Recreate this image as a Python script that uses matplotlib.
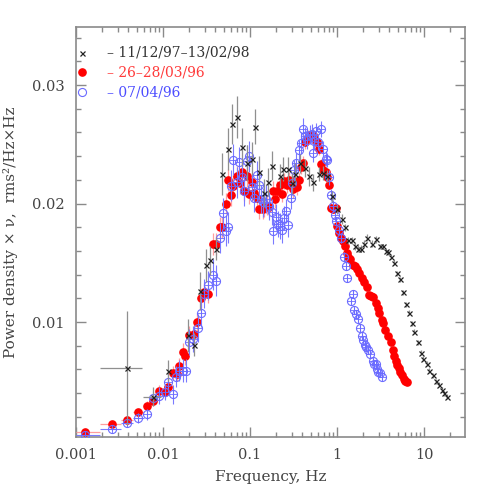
import matplotlib
matplotlib.use("Agg")
import matplotlib.pyplot as plt
import numpy as np
from matplotlib.ticker import LogLocator, MultipleLocator, FixedFormatter, FixedLocator

# 11/12/97-13/02/98 (black crosses)
bk_f = [0.0039, 0.0077, 0.0115, 0.0195, 0.0229, 0.0266, 0.0312, 0.0347, 0.0403, 0.048,
        0.0554, 0.0627, 0.071, 0.0803, 0.0917, 0.104, 0.114, 0.127, 0.145, 0.162,
        0.18, 0.221, 0.242, 0.275, 0.301, 0.329, 0.376, 0.429, 0.477, 0.525,
        0.621, 0.697, 0.775, 0.869, 0.99, 1.13, 1.24, 1.35, 1.47, 1.61,
        1.76, 1.87, 2.04, 2.19, 2.50, 2.80, 3.12, 3.34, 3.63, 3.88,
        4.18, 4.52, 4.85, 5.30, 5.69, 6.17, 6.73, 7.22, 7.74, 8.61,
        9.17, 9.82, 10.7, 11.5, 12.6, 13.6, 14.9, 16.0, 17.1, 18.5]
bk_p = [0.0061, 0.0037, 0.0059, 0.0089, 0.0081, 0.0126, 0.0148, 0.0152, 0.0162, 0.0225,
        0.0246, 0.0267, 0.0273, 0.0248, 0.0234, 0.0238, 0.0265, 0.0227, 0.0209, 0.0218,
        0.0232, 0.0223, 0.0229, 0.0229, 0.0217, 0.0225, 0.0234, 0.0230, 0.0223, 0.0218,
        0.0225, 0.0226, 0.0223, 0.0206, 0.0195, 0.0187, 0.0180, 0.0169, 0.0169, 0.0164,
        0.0162, 0.0162, 0.0166, 0.0171, 0.0166, 0.0170, 0.0164, 0.0164, 0.0160, 0.0159,
        0.0155, 0.0150, 0.0141, 0.0136, 0.0125, 0.0115, 0.0108, 0.0099, 0.0092, 0.0083,
        0.0074, 0.0069, 0.0065, 0.0059, 0.0055, 0.0050, 0.0047, 0.0043, 0.0040, 0.0037]
bk_e = [0.0048, 0.0008, 0.0009, 0.0014, 0.0010, 0.0016, 0.0014, 0.0012, 0.0010, 0.0018,
        0.0018, 0.0017, 0.0018, 0.0016, 0.0015, 0.0014, 0.0015, 0.0013, 0.0012, 0.0012,
        0.0012, 0.0010, 0.0010, 0.0010, 0.0009, 0.0009, 0.0008, 0.0008, 0.0008, 0.0007,
        0.0006, 0.0006, 0.0005, 0.0005, 0.0004, 0.0004, 0.0003, 0.0003, 0.0003, 0.0003,
        0.0003, 0.0003, 0.0003, 0.0003, 0.0003, 0.0003, 0.0002, 0.0002, 0.0002, 0.0002,
        0.0002, 0.0002, 0.0002, 0.0002, 0.0002, 0.0002, 0.0002, 0.0002, 0.0002, 0.0002,
        0.0002, 0.0002, 0.0002, 0.0002, 0.0002, 0.0002, 0.0002, 0.0002, 0.0002, 0.0002]
bk_bins = [(0.0019, 0.0057), (0.0059, 0.0095)]

# 26-28/03/96 (red filled circles)
rd_f = [0.00127, 0.00257, 0.00383, 0.0052, 0.0065, 0.0077, 0.0090, 0.0104, 0.0115, 0.0131,
        0.0143, 0.0153, 0.0168, 0.0179, 0.0199, 0.0227, 0.0248, 0.0275, 0.0296, 0.0327,
        0.0379, 0.0403, 0.0452, 0.048, 0.0526, 0.0564, 0.060, 0.0643, 0.0703, 0.0767,
        0.080, 0.0853, 0.093, 0.098, 0.105, 0.112, 0.121, 0.128, 0.140, 0.145,
        0.156, 0.167, 0.182, 0.194, 0.205, 0.218, 0.231, 0.248, 0.263, 0.280,
        0.301, 0.312, 0.344, 0.368, 0.385, 0.408, 0.429, 0.460, 0.489, 0.525,
        0.558, 0.593, 0.625, 0.652, 0.697, 0.744, 0.775, 0.811, 0.848, 0.906,
        0.966, 0.998, 1.05, 1.10, 1.17, 1.24, 1.29, 1.35, 1.41, 1.51,
        1.61, 1.70, 1.79, 1.91, 2.04, 2.19, 2.35, 2.45, 2.60, 2.80,
        2.92, 3.06, 3.26, 3.39, 3.54, 3.80, 4.16, 4.36, 4.53, 4.73,
        4.89, 5.11, 5.34, 5.56, 5.81, 6.07, 6.33]
rd_p = [0.0007, 0.0014, 0.0017, 0.0024, 0.0029, 0.0033, 0.0042, 0.0041, 0.0045, 0.0057,
        0.0056, 0.0063, 0.0075, 0.0071, 0.0089, 0.0090, 0.0100, 0.0120, 0.0125, 0.0124,
        0.0166, 0.0166, 0.0180, 0.0180, 0.0200, 0.0220, 0.0207, 0.0215, 0.0223, 0.0217,
        0.0227, 0.0211, 0.0223, 0.0208, 0.0218, 0.0209, 0.0205, 0.0195, 0.0195, 0.0197,
        0.0198, 0.0197, 0.0211, 0.0204, 0.0211, 0.0216, 0.0208, 0.0219, 0.0216, 0.0220,
        0.0218, 0.0212, 0.0214, 0.0220, 0.0231, 0.0234, 0.0252, 0.0256, 0.0258, 0.0258,
        0.0254, 0.0252, 0.0246, 0.0233, 0.0228, 0.0227, 0.0222, 0.0216, 0.0196, 0.0195,
        0.0196, 0.0181, 0.0175, 0.0171, 0.0168, 0.0164, 0.0158, 0.0155, 0.0153, 0.0148,
        0.0147, 0.0145, 0.0141, 0.0137, 0.0134, 0.0130, 0.0123, 0.0122, 0.0121, 0.0116,
        0.0112, 0.0108, 0.0102, 0.0099, 0.0093, 0.0088, 0.0083, 0.0076, 0.0071, 0.0067,
        0.0064, 0.0061, 0.0058, 0.0055, 0.0052, 0.0050, 0.0049]
rd_e = [0.0002, 0.0002, 0.0003, 0.0003, 0.0004, 0.0004, 0.0005, 0.0005, 0.0006, 0.0006,
        0.0006, 0.0007, 0.0007, 0.0007, 0.0008, 0.0008, 0.0008, 0.0008, 0.0008, 0.0008,
        0.0009, 0.0009, 0.0009, 0.0009, 0.0009, 0.0009, 0.0009, 0.0009, 0.0009, 0.0009,
        0.0009, 0.0009, 0.0009, 0.0008, 0.0008, 0.0008, 0.0008, 0.0008, 0.0008, 0.0008,
        0.0008, 0.0008, 0.0008, 0.0008, 0.0008, 0.0007, 0.0007, 0.0007, 0.0007, 0.0007,
        0.0007, 0.0007, 0.0007, 0.0006, 0.0006, 0.0006, 0.0006, 0.0006, 0.0006, 0.0006,
        0.0006, 0.0006, 0.0005, 0.0005, 0.0005, 0.0004, 0.0004, 0.0004, 0.0004, 0.0003,
        0.0003, 0.0003, 0.0003, 0.0003, 0.0003, 0.0002, 0.0002, 0.0002, 0.0002, 0.0002,
        0.0002, 0.0002, 0.0002, 0.0002, 0.0002, 0.0002, 0.0002, 0.0002, 0.0002, 0.0002,
        0.0002, 0.0002, 0.0002, 0.0002, 0.0002, 0.0002, 0.0002, 0.0002, 0.0002, 0.0002,
        0.0002, 0.0002, 0.0002, 0.0002, 0.0002, 0.0002, 0.0002]
rd_bins = [(0.001, 0.0019), (0.0019, 0.0033), (0.0033, 0.0045), (0.0045, 0.006)]

# 07/04/96 (blue open circles)
bl_f = [0.00127, 0.00257, 0.00383, 0.0052, 0.0065, 0.0077, 0.0090, 0.0104, 0.0115, 0.0129,
        0.0141, 0.0154, 0.0168, 0.0184, 0.0199, 0.0223, 0.025, 0.0273, 0.0297, 0.0326,
        0.0379, 0.0403, 0.0452, 0.0487, 0.0526, 0.0564, 0.0600, 0.0643, 0.0703, 0.0753,
        0.080, 0.0853, 0.0917, 0.098, 0.104, 0.111, 0.119, 0.127, 0.133, 0.141,
        0.153, 0.167, 0.177, 0.185, 0.198, 0.211, 0.221, 0.231, 0.245, 0.259,
        0.275, 0.292, 0.307, 0.321, 0.337, 0.368, 0.382, 0.404, 0.429, 0.455,
        0.489, 0.511, 0.525, 0.544, 0.574, 0.610, 0.652, 0.697, 0.738, 0.775,
        0.811, 0.848, 0.890, 0.944, 0.984, 1.04, 1.10, 1.19, 1.26, 1.31,
        1.44, 1.51, 1.58, 1.65, 1.76, 1.84, 1.91, 1.99, 2.08, 2.17,
        2.26, 2.42, 2.56, 2.68, 2.80, 2.85, 2.98, 3.12, 3.26]
bl_p = [0.0005, 0.00097, 0.0015, 0.0019, 0.0022, 0.0036, 0.0038, 0.0041, 0.0049, 0.0039,
        0.0054, 0.0059, 0.0059, 0.0059, 0.0083, 0.0086, 0.0095, 0.0108, 0.0124, 0.0131,
        0.0140, 0.0135, 0.0171, 0.0192, 0.0177, 0.0180, 0.0215, 0.0237, 0.0218, 0.0235,
        0.0222, 0.0211, 0.0236, 0.0240, 0.0214, 0.0205, 0.0224, 0.0216, 0.0204, 0.0201,
        0.0204, 0.0198, 0.0193, 0.0177, 0.0189, 0.0183, 0.0181, 0.0178, 0.0188, 0.0194,
        0.0182, 0.0205, 0.0217, 0.0228, 0.0234, 0.0245, 0.0251, 0.0263, 0.0257, 0.0254,
        0.0258, 0.0259, 0.0243, 0.0253, 0.0261, 0.0252, 0.0263, 0.0246, 0.0238, 0.0237,
        0.0222, 0.0207, 0.0198, 0.0190, 0.0185, 0.0178, 0.0171, 0.0155, 0.0147, 0.0137,
        0.0118, 0.0124, 0.0110, 0.0107, 0.0103, 0.0095, 0.0088, 0.0085, 0.0081, 0.0079,
        0.0076, 0.0073, 0.0067, 0.0065, 0.0065, 0.0060, 0.0058, 0.0057, 0.0054]
bl_e = [0.0002, 0.0002, 0.0003, 0.0004, 0.0005, 0.0006, 0.0007, 0.0007, 0.0008, 0.0008,
        0.0009, 0.0009, 0.0010, 0.0010, 0.0011, 0.0011, 0.0012, 0.0012, 0.0012, 0.0012,
        0.0013, 0.0013, 0.0013, 0.0013, 0.0013, 0.0013, 0.0013, 0.0013, 0.0013, 0.0013,
        0.0013, 0.0013, 0.0013, 0.0013, 0.0012, 0.0012, 0.0012, 0.0012, 0.0012, 0.0012,
        0.0012, 0.0012, 0.0011, 0.0011, 0.0011, 0.0011, 0.0011, 0.0011, 0.0010, 0.0010,
        0.0010, 0.0010, 0.0010, 0.0009, 0.0009, 0.0009, 0.0009, 0.0009, 0.0008, 0.0008,
        0.0008, 0.0008, 0.0008, 0.0008, 0.0007, 0.0007, 0.0007, 0.0007, 0.0006, 0.0006,
        0.0006, 0.0005, 0.0005, 0.0005, 0.0004, 0.0004, 0.0004, 0.0004, 0.0003, 0.0003,
        0.0003, 0.0003, 0.0003, 0.0003, 0.0003, 0.0003, 0.0003, 0.0003, 0.0003, 0.0003,
        0.0003, 0.0003, 0.0003, 0.0003, 0.0003, 0.0003, 0.0003, 0.0003, 0.0003]
bl_bins = [(0.001, 0.0019), (0.0019, 0.0033), (0.0033, 0.0045), (0.0045, 0.006)]

legend_labels = ["\u2013 11/12/97\u201313/02/98", "\u2013 26\u201328/03/96", "\u2013 07/04/96"]
tick_vals = [0.001, 0.01, 0.1, 1, 10]
tick_text = ["0.001", "0.01", "0.1", "1", "10"]


def xerr_from_bins(f, bins):
    f = np.asarray(f)
    lo = np.zeros(len(f))
    hi = np.zeros(len(f))
    for i, (a, b) in enumerate(bins):
        lo[i] = f[i] - a
        hi[i] = b - f[i]
    return np.vstack([lo, hi])


plt.rcParams['font.family'] = ['DejaVu Serif']
fig = plt.figure(figsize=(4.91, 4.91), dpi=100)
ax = fig.add_axes([76/491, 54/491, 389/491, 410/491])

gray = '#8a8a8a'
txt = '#444444'

ax.errorbar(rd_f, rd_p, yerr=rd_e, xerr=xerr_from_bins(rd_f, rd_bins), fmt='o',
            ms=5.2, color='red', mec='red', ecolor='#ff9d9d', elinewidth=0.9, capsize=0, zorder=3)
ax.errorbar(bl_f, bl_p, yerr=bl_e, xerr=xerr_from_bins(bl_f, bl_bins), fmt='o',
            ms=5.8, mfc='none', mec='#6b6bff', mew=0.8, ecolor='#7a7aff', elinewidth=0.8,
            capsize=0, zorder=4)
ax.plot(bl_f, bl_p, '+', ms=5.8, color='#6b6bff', mew=0.6, zorder=4)
ax.errorbar(bk_f, bk_p, yerr=bk_e, xerr=xerr_from_bins(bk_f, bk_bins), fmt='x',
            ms=3.6, color='#222222', mew=0.9, ecolor='#8f8f8f', elinewidth=0.9, capsize=0, zorder=5)

ax.set_xscale('log')
ax.set_xlim(0.001, 29.5)
ax.set_ylim(0.0003, 0.0349)

ax.xaxis.set_major_locator(FixedLocator(tick_vals))
ax.xaxis.set_major_formatter(FixedFormatter(tick_text))
ax.xaxis.set_minor_locator(LogLocator(base=10, subs=np.arange(2, 10), numticks=20))
ax.xaxis.set_minor_formatter(plt.NullFormatter())
ax.yaxis.set_major_locator(MultipleLocator(0.01))
ax.yaxis.set_minor_locator(MultipleLocator(0.002))

ax.tick_params(which='both', direction='in', top=True, right=True, color=gray,
               labelsize=10.5, labelcolor=txt, pad=8)
ax.tick_params(which='major', length=7, width=1.0)
ax.tick_params(which='minor', length=3.5, width=1.0)
for s in ax.spines.values():
    s.set_color(gray)
    s.set_linewidth(1.2)

ax.set_xlabel("Frequency, Hz", fontsize=11, color=txt, labelpad=6)
ax.set_ylabel("Power density \u00d7 \u03bd,  rms\u00b2/Hz\u00d7Hz", fontsize=11, color=txt, labelpad=10)

# legend drawn by hand, like the original
leg_y = [0.937, 0.890, 0.841]
ax.plot([0.015], [leg_y[0]], 'x', ms=3.6, color='#222222', mew=0.9, transform=ax.transAxes)
ax.plot([0.015], [leg_y[1]], 'o', ms=5.2, color='red', transform=ax.transAxes)
ax.plot([0.015], [leg_y[2]], 'o', ms=5.8, mfc='none', mec='#6b6bff', mew=0.8, transform=ax.transAxes)
leg_colors = ['#333333', '#ff3b3b', '#4d4dff']
for y, lab, c in zip(leg_y, legend_labels, leg_colors):
    ax.text(0.08, y, lab, transform=ax.transAxes, color=c, fontsize=10, va='center', ha='left')

fig.savefig("out.png", dpi=100)
